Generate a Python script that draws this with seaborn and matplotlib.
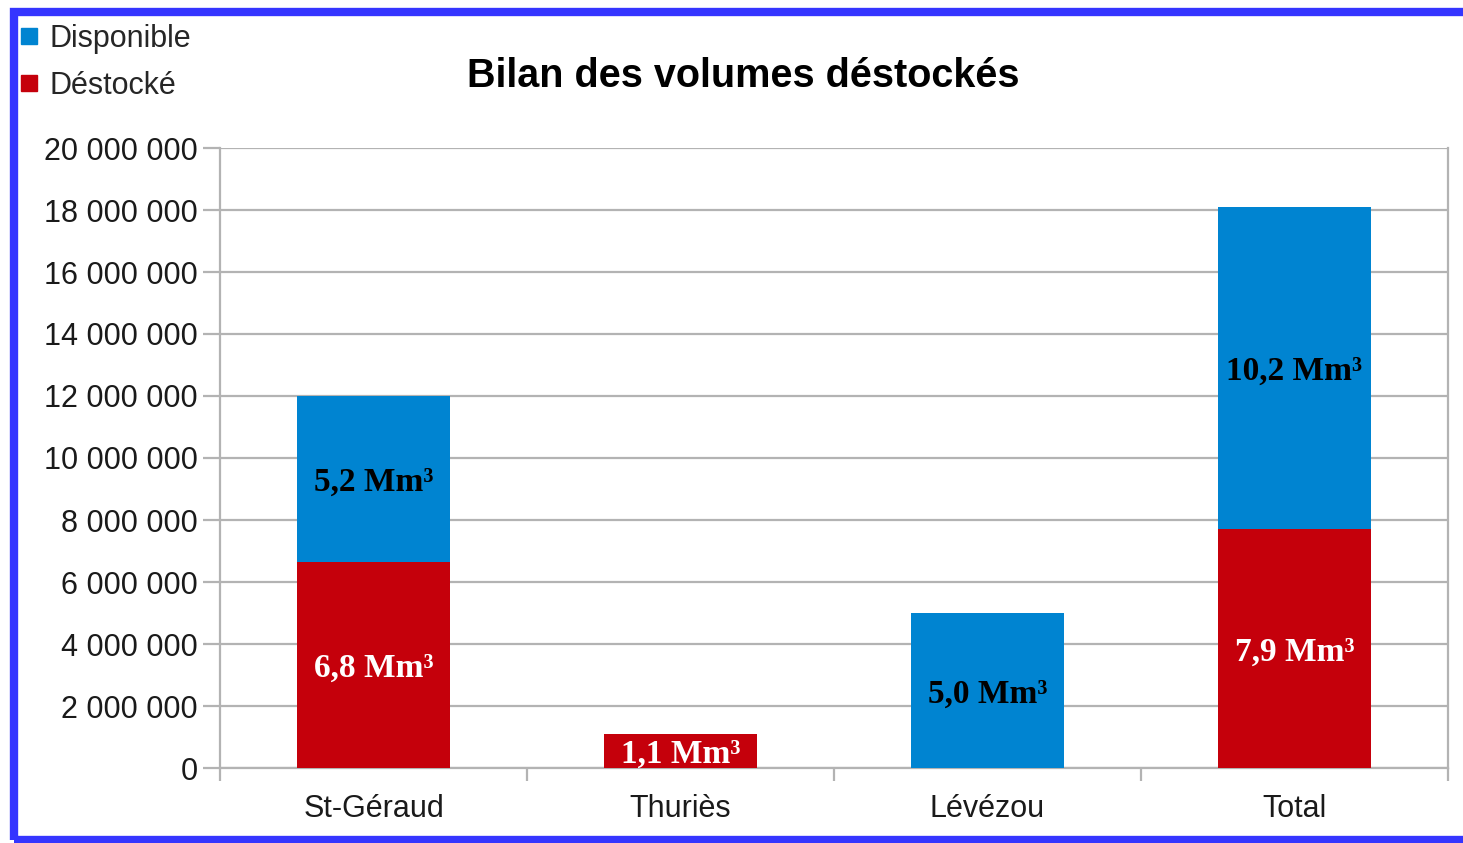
import matplotlib
matplotlib.use("Agg")
import matplotlib.pyplot as plt
from matplotlib.ticker import FuncFormatter, FixedLocator
from matplotlib.lines import Line2D
from matplotlib.patches import Rectangle
import seaborn as sns
import pandas as pd
import numpy as np

# ---- data ----
categories = ["St-Géraud", "Thuriès", "Lévézou", "Total"]
destocke = [6650000, 1100000, 0, 7720000]
disponible = [5350000, 0, 5000000, 10380000]
destocke_labels = ["6,8 Mm³", "1,1 Mm³", "", "7,9 Mm³"]
disponible_labels = ["5,2 Mm³", "", "5,0 Mm³", "10,2 Mm³"]
series_names = ["Disponible", "Déstocké"]
title = "Bilan des volumes déstockés"

BLUE = "#0084d1"
RED = "#c5000b"
GRID = "#b3b3b3"

sns.set_theme(style="white")
plt.rcParams["font.family"] = ["Liberation Sans", "DejaVu Sans"]

totals = [a + b for a, b in zip(destocke, disponible)]
df_tot = pd.DataFrame({"cat": categories, "val": totals})
df_red = pd.DataFrame({"cat": categories, "val": destocke})

fig = plt.figure(figsize=(14.63, 8.43), dpi=100)
W, H = 1463, 843
ax = fig.add_axes([220 / W, 1 - 768 / H, (1448 - 220) / W, (768 - 148) / H])

sns.barplot(data=df_tot, x="cat", y="val", color=BLUE, saturation=1, width=0.5,
            ax=ax, errorbar=None, zorder=3)
sns.barplot(data=df_red, x="cat", y="val", color=RED, saturation=1, width=0.5,
            ax=ax, errorbar=None, zorder=3)
for p in ax.patches:
    p.set_linewidth(0)

ax.set_xlim(-0.5, len(categories) - 0.5)
ax.set_ylim(0, 20000000)
ax.yaxis.set_major_locator(FixedLocator(np.arange(0, 20000001, 2000000)))
ax.yaxis.set_major_formatter(FuncFormatter(lambda v, p: f"{int(v):,}".replace(",", " ")))
ax.set_xlabel("")
ax.set_ylabel("")

ax.grid(axis="y", color=GRID, linewidth=1.6, zorder=0)
ax.set_axisbelow(True)
for s in ["left", "right", "bottom", "top"]:
    ax.spines[s].set_color(GRID)
    ax.spines[s].set_linewidth(1.6)
ax.spines["top"].set_visible(False)

ax.tick_params(axis="y", which="major", length=12, width=1.6, color=GRID, pad=4,
               labelsize=22, left=True)
ax.tick_params(axis="x", which="major", length=0, pad=19, labelsize=22, bottom=True)
ax.set_xticks(np.arange(-0.5, len(categories), 1.0), minor=True)
ax.tick_params(axis="x", which="minor", length=9, width=1.6, color=GRID, bottom=True)
for lbl in ax.get_xticklabels() + ax.get_yticklabels():
    lbl.set_color("#1a1a1a")

# value labels
lab_font = dict(family=["Liberation Serif", "DejaVu Serif"], fontweight="bold", fontsize=24,
                ha="center", va="center_baseline")
for i in range(len(categories)):
    if destocke[i] > 0 and destocke_labels[i]:
        ax.text(i, destocke[i] / 2, destocke_labels[i], color="white", zorder=5, **lab_font)
    if disponible[i] > 0 and disponible_labels[i]:
        ax.text(i, destocke[i] + disponible[i] / 2, disponible_labels[i], color="black",
                zorder=5, **lab_font)

# title
fig.text(743 / W, 1 - 76 / H, title, ha="center", va="center", fontsize=28.5,
         fontweight="bold", color="black")

# legend
handles = [Line2D([], [], marker="s", linestyle="none", markersize=12, color=BLUE),
           Line2D([], [], marker="s", linestyle="none", markersize=12, color=RED)]
fig.legend(handles, series_names, loc="upper left", bbox_to_anchor=(20 / W, 1 - 24 / H),
           frameon=False, fontsize=22, handlelength=0.6, handletextpad=0.35,
           labelspacing=0.55, borderpad=0, borderaxespad=0)

# blue frame
fig.patches.append(Rectangle((14 / W, 3 / H), 1.2, 1 - 15 / H, transform=fig.transFigure,
                             fill=False, edgecolor="#3535ff", linewidth=6, zorder=10))

fig.savefig("out.png", dpi=100, facecolor="white")
